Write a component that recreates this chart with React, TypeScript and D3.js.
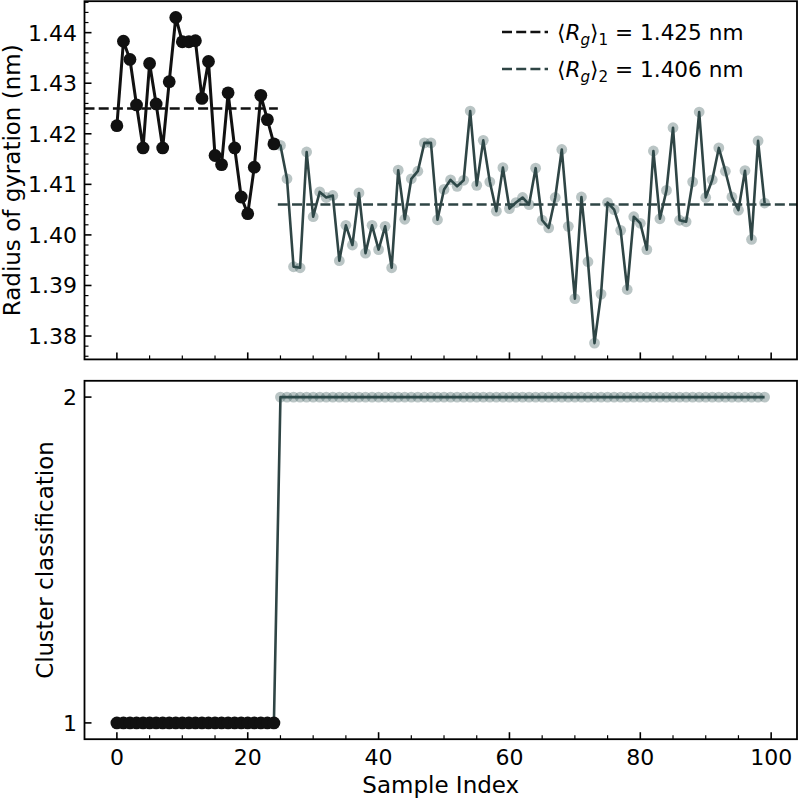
import React from "react";
import * as d3 from "d3";

const rgValues: number[] = [
  1.4216, 1.4383, 1.4347, 1.4257, 1.4172, 1.4339, 1.4259, 1.4172, 1.4303, 1.4430,
  1.4382, 1.4382, 1.4384, 1.4270, 1.4343, 1.4157, 1.4139, 1.4281, 1.4172, 1.4075,
  1.4042, 1.4134, 1.4276, 1.4228, 1.4180, 1.4177, 1.4111, 1.3937, 1.3935, 1.4164,
  1.4036, 1.4085, 1.4074, 1.4078, 1.3949, 1.4019, 1.3980, 1.4083, 1.3964, 1.4019,
  1.3971, 1.4017, 1.3935, 1.4128, 1.4031, 1.4111, 1.4126, 1.4182, 1.4182, 1.4030,
  1.4090, 1.4109, 1.4096, 1.4108, 1.4245, 1.4098, 1.4187, 1.4105, 1.4047, 1.4133,
  1.4052, 1.4064, 1.4074, 1.4060, 1.4132, 1.4029, 1.4014, 1.4074, 1.4169, 1.4017,
  1.3874, 1.4075, 1.3947, 1.3786, 1.3883, 1.4064, 1.4050, 1.4009, 1.3892, 1.4036,
  1.4023, 1.3971, 1.4166, 1.4032, 1.4088, 1.4212, 1.4029, 1.4026, 1.4105, 1.4243,
  1.4074, 1.4109, 1.4172, 1.4126, 1.4075, 1.4049, 1.4127, 1.3991, 1.4186, 1.4063,
];

const clusterLabels: number[] = [
  1, 1, 1, 1, 1, 1, 1, 1, 1, 1, 1, 1, 1, 1, 1, 1, 1, 1, 1, 1, 1, 1, 1, 1, 1,
  2, 2, 2, 2, 2, 2, 2, 2, 2, 2, 2, 2, 2, 2, 2, 2, 2, 2, 2, 2, 2, 2, 2, 2, 2,
  2, 2, 2, 2, 2, 2, 2, 2, 2, 2, 2, 2, 2, 2, 2, 2, 2, 2, 2, 2, 2, 2, 2, 2, 2,
  2, 2, 2, 2, 2, 2, 2, 2, 2, 2, 2, 2, 2, 2, 2, 2, 2, 2, 2, 2, 2, 2, 2, 2, 2,
];

const clusterMeans: number[] = [1.425, 1.406];
const meanSplit = 24.6;
const xMajorTicks: number[] = [0, 20, 40, 60, 80, 100];
const xMinorTicks: number[] = [5, 10, 15, 25, 30, 35, 45, 50, 55, 65, 70, 75, 85, 90, 95];
const yTopTicks: number[] = [1.38, 1.39, 1.40, 1.41, 1.42, 1.43, 1.44];
const yBottomTicks: number[] = [1, 2];
const legendLabels: string[] = ["1.425 nm", "1.406 nm"];

const FONT = "DejaVu Sans";
const C1 = "#111111";
const C2 = "#2F4545";
const C2M = "#2F4F4F";
const TICK_FS = 22;
const LABEL_FS = 23;
const LEG_FS = 21.6;

const L = 84.5, R = 797;
const TOP1 = 1.2, BOT1 = 359.4;
const TOP2 = 380.8, BOT2 = 739.2;

export default function App() {
  const idx = rgValues.map((_, i) => i);
  const x = d3.scaleLinear().domain([-4.95, 103.95]).range([L, R]);
  const [mn, mx] = d3.extent(rgValues) as [number, number];
  const pad = (mx - mn) * 0.05;
  const y1 = d3.scaleLinear().domain([mn - pad, mx + pad]).range([BOT1, TOP1]);
  const y2 = d3.scaleLinear().domain([0.95, 2.05]).range([BOT2, TOP2]);

  const c1 = idx.filter((i) => clusterLabels[i] === 1);
  const c2 = idx.filter((i) => clusterLabels[i] === 2);
  const c2line = [c1[c1.length - 1], ...c2];

  const line1 = d3.line<number>().x((i) => x(i)).y((i) => y1(rgValues[i]));
  const line2 = d3.line<number>().x((i) => x(i)).y((i) => y2(clusterLabels[i]));

  const yMinor: number[] = d3.range(1.376, 1.4461, 0.002).filter(
    (v) => Math.abs(Math.round(v * 100) - v * 100) > 0.01 && v >= mn - pad && v <= mx + pad
  );

  const xTicks = (bottom: number, labels: boolean) => (
    <g>
      {xMajorTicks.map((t) => (
        <g key={"M" + t}>
          <line x1={x(t)} x2={x(t)} y1={bottom} y2={bottom - 7} stroke="#000" strokeWidth={1.6} />
          {labels && (
            <text x={x(t)} y={bottom + 25.5} fontSize={TICK_FS} textAnchor="middle" fontFamily={FONT}>
              {t}
            </text>
          )}
        </g>
      ))}
      {xMinorTicks.map((t) => (
        <line key={"m" + t} x1={x(t)} x2={x(t)} y1={bottom} y2={bottom - 4} stroke="#000" strokeWidth={1.2} />
      ))}
    </g>
  );

  return (
    <svg
      width={798}
      height={798}
      style={{ position: "absolute", left: 0, top: 0, background: "#fff" }}
      fontFamily={FONT}
    >
      <rect width={798} height={798} fill="#fff" />
      {/* ===== Top panel ===== */}
      <g>
        <line
          x1={L} x2={x(meanSplit)} y1={y1(clusterMeans[0])} y2={y1(clusterMeans[0])}
          stroke={C1} strokeWidth={2.6} strokeDasharray="10,4.2"
        />
        <line
          x1={x(meanSplit)} x2={R} y1={y1(clusterMeans[1])} y2={y1(clusterMeans[1])}
          stroke={C2} strokeWidth={2.6} strokeDasharray="10,4.2"
        />
        <path d={line1(c2line) || ""} fill="none" stroke={C2} strokeWidth={2.6} strokeLinejoin="round" />
        {c2.map((i) => (
          <circle key={i} cx={x(i)} cy={y1(rgValues[i])} r={5.4} fill={C2M} fillOpacity={0.33} />
        ))}
        <path d={line1(c1) || ""} fill="none" stroke={C1} strokeWidth={3} strokeLinejoin="round" />
        {c1.map((i) => (
          <circle key={i} cx={x(i)} cy={y1(rgValues[i])} r={6.4} fill={C1} />
        ))}
        {yTopTicks.map((t) => (
          <g key={t}>
            <line x1={L} x2={L + 7} y1={y1(t)} y2={y1(t)} stroke="#000" strokeWidth={1.6} />
            <text x={77} y={y1(t)} dy="0.36em" fontSize={TICK_FS} textAnchor="end">
              {t.toFixed(2)}
            </text>
          </g>
        ))}
        {yMinor.map((t) => (
          <line key={t} x1={L} x2={L + 4} y1={y1(t)} y2={y1(t)} stroke="#000" strokeWidth={1.2} />
        ))}
        {xTicks(BOT1, false)}
        <rect x={L} y={TOP1} width={R - L} height={BOT1 - TOP1} fill="none" stroke="#000" strokeWidth={1.8} />
        <text
          transform={`translate(20, ${(TOP1 + BOT1) / 2}) rotate(-90)`}
          fontSize={LABEL_FS}
          textAnchor="middle"
        >
          Radius of gyration (nm)
        </text>
        {legendLabels.map((lab, k) => {
          const ly = 32 + k * 37;
          return (
            <g key={k}>
              <line
                x1={502} x2={548} y1={ly} y2={ly}
                stroke={k === 0 ? C1 : C2} strokeWidth={2.6} strokeDasharray="10,4.2"
              />
              <text x={557} y={ly} dy="0.36em" fontSize={LEG_FS}>
                <tspan>⟨</tspan>
                <tspan fontStyle="italic">R</tspan>
                <tspan fontStyle="italic" fontSize={15.2} dy={5}>g</tspan>
                <tspan dy={-5}>⟩</tspan>
                <tspan fontSize={15.2} dy={5}>{k + 1}</tspan>
                <tspan dy={-5}>{" = " + lab}</tspan>
              </text>
            </g>
          );
        })}
      </g>

      {/* ===== Bottom panel ===== */}
      <g>
        <path d={line2(c2line) || ""} fill="none" stroke={C2} strokeWidth={2.6} strokeLinejoin="round" />
        {c2.map((i) => (
          <circle key={i} cx={x(i)} cy={y2(clusterLabels[i])} r={5.4} fill={C2M} fillOpacity={0.33} />
        ))}
        <path d={line2(c1) || ""} fill="none" stroke={C1} strokeWidth={3} />
        {c1.map((i) => (
          <circle key={i} cx={x(i)} cy={y2(clusterLabels[i])} r={6.4} fill={C1} />
        ))}
        {yBottomTicks.map((t) => (
          <g key={t}>
            <line x1={L} x2={L + 7} y1={y2(t)} y2={y2(t)} stroke="#000" strokeWidth={1.6} />
            <text x={77} y={y2(t)} dy="0.36em" fontSize={TICK_FS} textAnchor="end">
              {t}
            </text>
          </g>
        ))}
        {xTicks(BOT2, true)}
        <rect x={L} y={TOP2} width={R - L} height={BOT2 - TOP2} fill="none" stroke="#000" strokeWidth={1.8} />
        <text
          transform={`translate(53, ${(TOP2 + BOT2) / 2}) rotate(-90)`}
          fontSize={LABEL_FS}
          textAnchor="middle"
        >
          Cluster classification
        </text>
        <text x={(L + R) / 2} y={793} fontSize={LABEL_FS} textAnchor="middle">
          Sample Index
        </text>
      </g>
    </svg>
  );
}
